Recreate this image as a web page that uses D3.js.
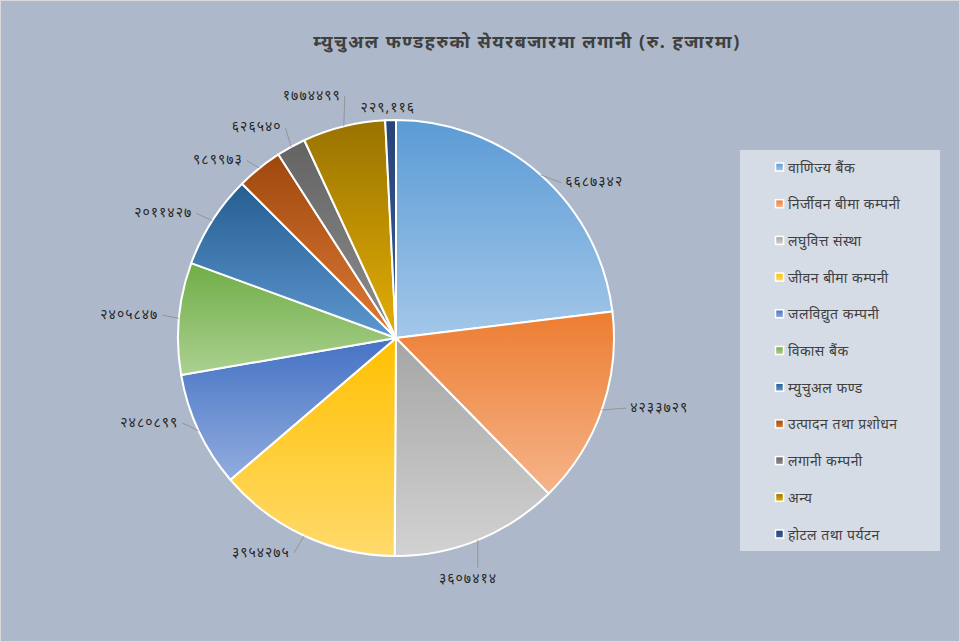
<!DOCTYPE html>
<html><head><meta charset="utf-8">
<script src="https://cdn.jsdelivr.net/npm/d3@7"></script>
<style>
html,body{margin:0;padding:0;background:#fff;}
svg{display:block;font-family:"Noto Sans","DejaVu Sans",sans-serif;}
</style></head>
<body>
<svg id="c" width="960" height="642"></svg>
<script>
// ---- data ----
const categories = ["वाणिज्य बैंक","निर्जीवन बीमा कम्पनी","लघुवित्त संस्था","जीवन बीमा कम्पनी","जलविद्युत कम्पनी","विकास बैंक","म्युचुअल फण्ड","उत्पादन तथा प्रशोधन","लगानी कम्पनी","अन्य","होटल तथा पर्यटन"];
const values = [6687342,4233729,3607414,3954275,2480899,2405847,2011427,989973,626540,1774499,229116];
const valueLabels = ["६६८७३४२","४२३३७२९","३६०७४१४","३९५४२७५","२४८०८९९","२४०५८४७","२०११४२७","९८९९७३","६२६५४०","१७७४४९९","२२९,११६"];
const title = "म्युचुअल फण्डहरुको सेयरबजारमा लगानी (रु. हजारमा)";

// ---- style / layout ----
const baseColors = ["#5b9bd5","#ed7d31","#a5a5a5","#ffc000","#4472c4","#70ad47","#255e91","#9e480e","#636363","#997300","#264478"];
const lightColors = ["#a3c7e9","#f5b48a","#d2d2d2","#ffda6c","#92acde","#abd190","#5d97cf","#de7a36","#8e8e8e","#e3ae06","#3b5c9a"];
const labelTurn = [5.6,-3.1,5.3,1.6,4.3,0.8,-0.7,-1.7,0.4,1.1,-0.6];
const labelDist = [231,244,250,238,233,239,240,236,241,250,232];

const svg = d3.select("#c");
const W=960,H=642;
svg.append("rect").attr("x",0.5).attr("y",0.5).attr("width",W-1).attr("height",H-1)
  .attr("fill","#adb9ca").attr("stroke","#d9d9d9");

const defs = svg.append("defs");
baseColors.forEach((c,i)=>{
  const g = defs.append("linearGradient").attr("id","g"+i)
    .attr("x1",0).attr("y1",0).attr("x2",0).attr("y2",1);
  g.append("stop").attr("offset","0%").attr("stop-color",c);
  g.append("stop").attr("offset","100%").attr("stop-color",lightColors[i]);
});

svg.append("text").attr("x",527).attr("y",41).attr("text-anchor","middle")
  .attr("dominant-baseline","central").attr("font-size",18).attr("font-weight","bold")
  .attr("letter-spacing","1.5px")
  .attr("fill","#404040").text(title);

const cx=396, cy=338, R=218;
const pie = d3.pie().sort(null).value(d=>d)(values);
const arc = d3.arc().innerRadius(0).outerRadius(R);
const g = svg.append("g").attr("transform",`translate(${cx},${cy})`);
g.selectAll("path.s").data(pie).join("path").attr("class","s")
  .attr("d",arc).attr("fill",(d,i)=>`url(#g${i})`)
  .attr("stroke","#fff").attr("stroke-width",2).attr("stroke-linejoin","round");

const deg = Math.PI/180;
pie.forEach((d,i)=>{
  const mid = (d.startAngle+d.endAngle)/2;
  const la = mid + labelTurn[i]*deg;
  const ax = Math.sin(la)*labelDist[i], ay = -Math.cos(la)*labelDist[i];
  const ex = Math.sin(mid)*R, ey = -Math.cos(mid)*R;
  let anchor = Math.abs(ax) < 30 ? "middle" : (ax>0 ? "start":"end");
  if(i===2) anchor = "middle";
  let kx, ky;
  if(anchor==="start"){kx=ax-4; ky=ay+2;}
  else if(anchor==="end"){kx=ax+4; ky=ay+2;}
  else {kx=ex; ky=ay + (ay>0 ? -10 : 10);}
  const len = Math.hypot(kx-ex, ky-ey);
  if(len>8 && i!==values.length-1){
    g.append("line").attr("x1",ex).attr("y1",ey).attr("x2",kx).attr("y2",ky)
      .attr("stroke","#8c8c8c").attr("stroke-width",0.8);
  }
  g.append("text").attr("x",ax).attr("y",ay).attr("text-anchor",anchor)
    .attr("dominant-baseline","central").attr("font-size",14).attr("fill","#262626")
    .attr("letter-spacing","1px")
    .text(valueLabels[i]);
});

// legend
const lg = svg.append("g");
lg.append("rect").attr("x",740).attr("y",150).attr("width",200).attr("height",401).attr("fill","#d6dce5");
const ly = d3.scaleLinear().domain([0,categories.length-1]).range([167,534]);
categories.forEach((c,i)=>{
  const y = ly(i);
  lg.append("rect").attr("x",775.5).attr("y",y-4).attr("width",8).attr("height",8)
    .attr("fill",`url(#g${i})`).attr("stroke","#fff").attr("stroke-width",1.5);
  lg.append("text").attr("x",788).attr("y",y).attr("dominant-baseline","central")
    .attr("font-size",14).attr("letter-spacing","0.5px")
    .attr("fill","#404040").text(c);
});
</script>
</body></html>
